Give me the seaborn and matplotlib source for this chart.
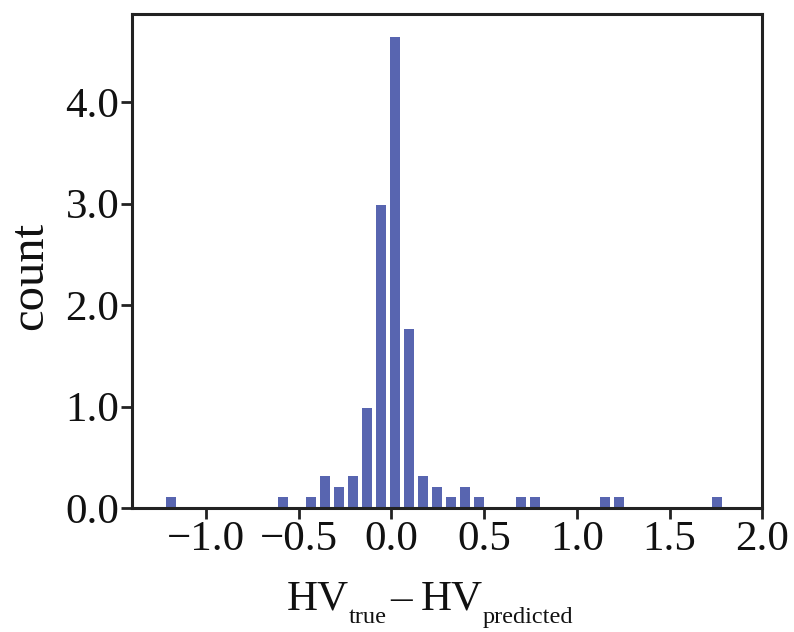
import numpy as np
import pandas as pd
import matplotlib
matplotlib.use('Agg')
import matplotlib.pyplot as plt
import seaborn as sns

# bin centres of the residual histogram (HV_true - HV_predicted)
bin_centers = [-1.188, -0.583, -0.432, -0.356, -0.281, -0.205, -0.130, -0.054,
               0.020, 0.095, 0.171, 0.246, 0.322, 0.397, 0.473, 0.699, 0.775,
               1.152, 1.228, 1.756]
# bar heights
heights = [0.105, 0.105, 0.105, 0.321, 0.213, 0.321, 0.989, 2.984,
           4.645, 1.765, 0.321, 0.213, 0.105, 0.213, 0.105, 0.105, 0.105,
           0.105, 0.105, 0.105]
bin_start = -1.226
bin_width = 0.0755
n_bins = 40

xticks = [-1.0, -0.5, 0.0, 0.5, 1.0, 1.5, 2.0]
yticks = [0.0, 1.0, 2.0, 3.0, 4.0]

df = pd.DataFrame({"resid": bin_centers, "h": heights})

sns.set_style("ticks")
plt.rcParams['font.family'] = ['Liberation Serif', 'DejaVu Serif']

W, H = 794, 632
fig = plt.figure(figsize=(W / 100, H / 100), dpi=100)
ax = fig.add_axes([0.166, 0.196, 0.794, 0.782])

edges = list(bin_start + bin_width * np.arange(n_bins + 1))
sns.histplot(data=df, x="resid", weights="h", bins=edges, shrink=0.72,
             color="#5865b0", alpha=1.0, edgecolor="none", linewidth=0, ax=ax)

ax.set_xlim(-1.4, 2.0)
ax.set_ylim(0, 4.87)
ax.set_xticks(xticks)
ax.set_yticks(yticks)
ax.set_xticklabels([f"{t:.1f}".replace("-", "\u2212") for t in xticks])
ax.set_yticklabels([f"{t:.1f}" for t in yticks])
ax.tick_params(axis="both", labelsize=31, direction="out", length=8, width=2,
               color="#222222", labelcolor="#111111", pad=1)
ax.set_xlabel("")
ax.set_ylabel("")

for s in ax.spines.values():
    s.set_visible(True)
    s.set_linewidth(2.2)
    s.set_color("#222222")

# y label
fig.text(30 / W, 1 - 276 / H, "count", fontsize=35, rotation=90,
         ha="center", va="center", color="#111111")

# x label: HV_true – HV_predicted, built from pieces with smaller, lower subscripts
renderer = fig.canvas.get_renderer()
pieces = [("HV", 31, 0, 0), ("true", 17.5, -13, 3), ("\u2013", 31, 0, 9),
          ("HV", 31, 0, 0), ("predicted", 17.5, -13, 0)]
x_px, base_px = 287, H - 610
for txt, size, dy, gap in pieces:
    t = fig.text(x_px / W, (base_px + dy) / H, txt, fontsize=size,
                 ha="left", va="baseline", color="#111111")
    x_px += t.get_window_extent(renderer=renderer).width + gap

fig.savefig("out.png", dpi=100)
